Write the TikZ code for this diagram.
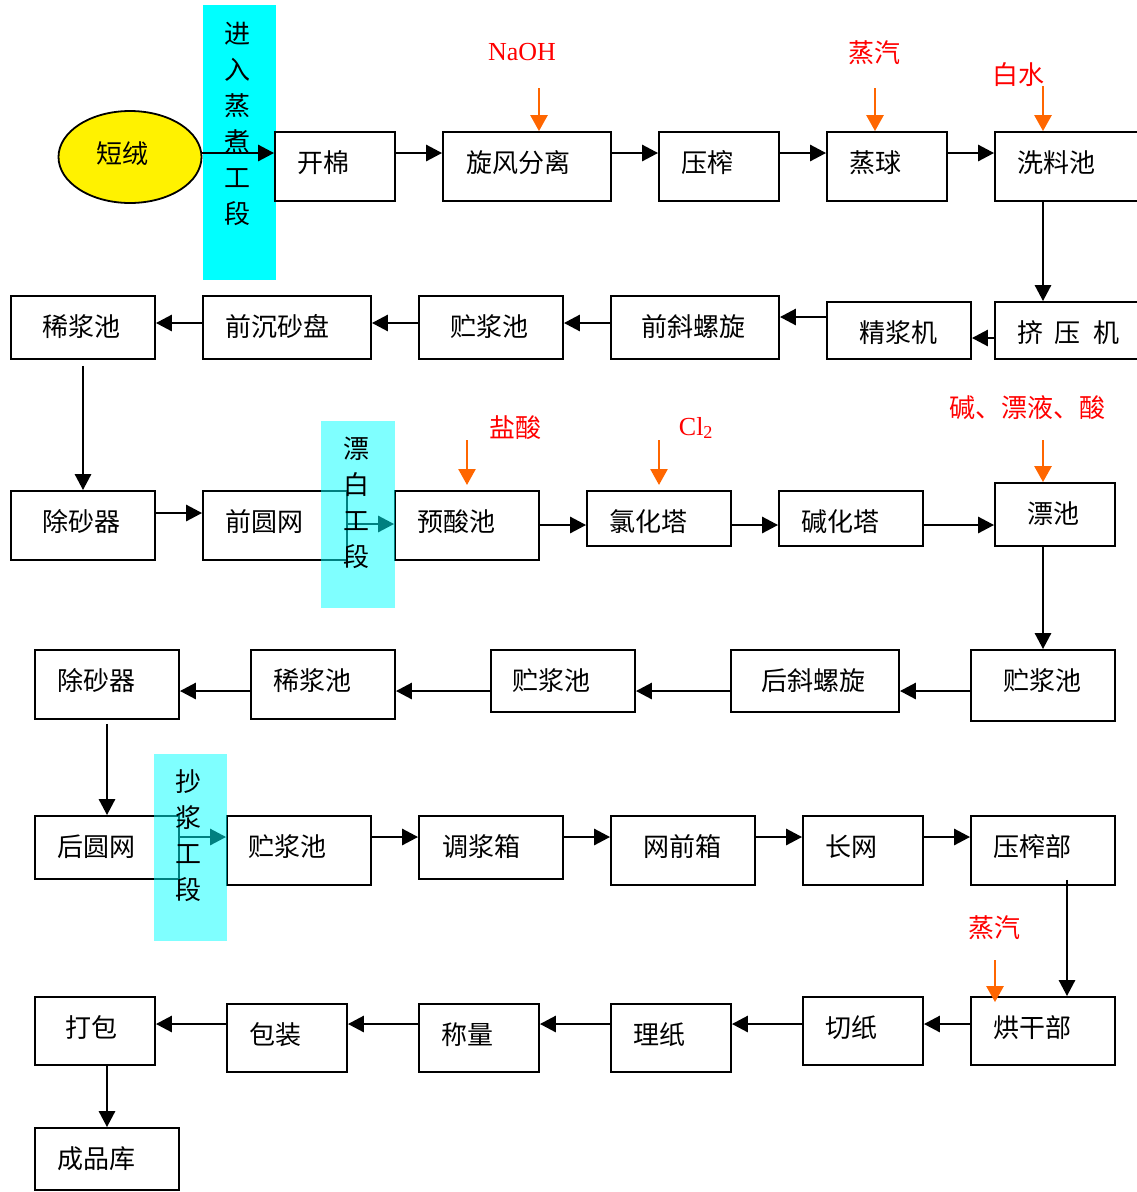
\documentclass[tikz,border=0pt]{standalone}
\usepackage{fontspec}
\setmainfont{Liberation Serif}
\newfontfamily\cjk{Noto Sans CJK SC}
\usetikzlibrary{shapes.geometric,arrows.meta,calc}
\definecolor{myorange}{HTML}{FF6600}
\definecolor{myred}{HTML}{FF0000}
\definecolor{mycyan}{HTML}{00FFFF}
\tikzset{
  box/.style={draw, line width=1.8pt, align=left, inner sep=0pt,
    font=\cjk\fontsize{26}{30}\selectfont},
  arr/.style={line width=2.8pt, -{Triangle[length=16pt,width=16pt]}},
  oarr/.style={draw=myorange, line width=2.6pt, -{Triangle[length=16pt,width=17pt]}},
  lab/.style={text=myred, inner sep=0pt, font=\fontsize{26}{30}\selectfont},
  bandtxt/.style={align=center, inner sep=0pt, font=\cjk\fontsize{26}{36}\selectfont},
  bandA/.style={fill=mycyan, inner sep=0pt},
  bandB/.style={fill=mycyan, fill opacity=0.5, inner sep=0pt},
}
\newcommand\pbox[7]{%
  \pgfmathsetmacro\pbw{#4-#2}%
  \pgfmathsetmacro\pbh{#5-#3}%
  \pgfmathsetmacro\pbt{#4-#2-2*#6}%
  \pgfmathsetmacro\pbx{(#2+#4)/2}%
  \pgfmathsetmacro\pby{(#3+#5)/2}%
  \pgfmathsetmacro\pbth{93-(#5-#3)}%
  \node[box, minimum width=\pbw pt, minimum height=\pbh pt, text width=\pbt pt,
    text height=\pbth pt, text depth=12pt] (#1) at (\pbx,\pby) {#7};}
\begin{document}
\begin{tikzpicture}[x=1pt,y=-1pt]
\useasboundingbox (0,0) rectangle (1137,1192);
\fill[white] (0,0) rectangle (1137,1192);
% band 1 (opaque, under everything)
\node[bandA, minimum width=73pt, minimum height=275pt] (band1) at (239.5,142.5) {};
% ellipse
\node[ellipse, draw, fill=yellow, line width=1.8pt, minimum width=143pt, minimum height=92pt, inner sep=0pt,
  font=\cjk\fontsize{26}{30}\selectfont, text height=24pt, text depth=12pt] (duanrong) at (130,157) {\hspace{-16pt}短绒};
% row 1
\pbox{kaimian}{275}{132}{395}{201}{22}{开棉}
\pbox{xuanfeng}{443}{132}{611}{201}{23}{旋风分离}
\pbox{yazha}{659}{132}{779}{201}{22}{压榨}
\pbox{zhengqiu}{827}{132}{947}{201}{22}{蒸球}
\pbox{xiliao}{995}{132}{1150}{201}{22}{洗料池}
% row 2
\pbox{xijiang1}{11}{296}{155}{359}{31}{稀浆池}
\pbox{qianchen}{203}{296}{371}{359}{22}{前沉砂盘}
\pbox{zhujiang1}{419}{296}{563}{359}{31}{贮浆池}
\pbox{qianxie}{611}{296}{779}{359}{30}{前斜螺旋}
\pbox{jingjiang}{827}{302}{971}{359}{32}{精浆机}
\pbox{jiya}{995}{302}{1150}{359}{22}{挤\kern12pt压\kern12pt机}
% row 3
\pbox{chusha1}{11}{491}{155}{560}{31}{除砂器}
\pbox{qianyuan}{203}{491}{347}{560}{22}{前圆网}
\pbox{yusuan}{395}{491}{539}{560}{22}{预酸池}
\pbox{lvhua}{587}{491}{731}{546}{22}{氯化塔}
\pbox{jianhua}{779}{491}{923}{546}{22}{碱化塔}
\pbox{piaochi}{995}{483}{1115}{546}{32}{漂池}
% row 4
\pbox{chusha2}{35}{650}{179}{719}{22}{除砂器}
\pbox{xijiang2}{251}{650}{395}{719}{22}{稀浆池}
\pbox{zhujiang2}{491}{650}{635}{712}{21}{贮浆池}
\pbox{houxie}{731}{650}{899}{712}{30}{后斜螺旋}
\pbox{zhujiang3}{971}{650}{1115}{721}{32}{贮浆池}
% row 5
\pbox{houyuan}{35}{816}{179}{879}{22}{后圆网}
\pbox{zhujiang4}{227}{816}{371}{885}{21}{贮浆池}
\pbox{tiaojiang}{419}{816}{563}{879}{23}{调浆箱}
\pbox{wangqian}{611}{816}{755}{885}{32}{网前箱}
\pbox{changwang}{803}{816}{923}{885}{22}{长网}
\pbox{yazhabu}{971}{816}{1115}{885}{22}{压榨部}
% row 6
\pbox{dabao}{35}{997}{155}{1065}{30}{打包}
\pbox{baozhuang}{227}{1004}{347}{1072}{22}{包装}
\pbox{chengliang}{419}{1004}{539}{1072}{22}{称量}
\pbox{lizhi}{611}{1004}{731}{1072}{22}{理纸}
\pbox{qiezhi}{803}{997}{923}{1065}{22}{切纸}
\pbox{honggan}{971}{997}{1115}{1065}{22}{烘干部}
\pbox{chengpin}{35}{1128}{179}{1190}{22}{成品库}
% connectors row 1
\draw[arr] (duanrong.east |- 0,153) -- (kaimian.west |- 0,153);
\draw[arr] (kaimian.east |- 0,153) -- (xuanfeng.west |- 0,153);
\draw[arr] (xuanfeng.east |- 0,153) -- (yazha.west |- 0,153);
\draw[arr] (yazha.east |- 0,153) -- (zhengqiu.west |- 0,153);
\draw[arr] (zhengqiu.east |- 0,153) -- (xiliao.west |- 0,153);
\draw[arr] (xiliao.south -| 1043,0) -- (jiya.north -| 1043,0);
% row 2
\draw[arr] (jiya.west |- 0,338) -- (jingjiang.east |- 0,338);
\draw[arr] (jingjiang.west |- 0,317) -- (qianxie.east |- 0,317);
\draw[arr] (qianxie.west |- 0,323) -- (zhujiang1.east |- 0,323);
\draw[arr] (zhujiang1.west |- 0,323) -- (qianchen.east |- 0,323);
\draw[arr] (qianchen.west |- 0,323) -- (xijiang1.east |- 0,323);
\draw[arr] ($(xijiang1.south)+(0,6)$) -- (chusha1.north);
% row 3
\draw[arr] (chusha1.east |- 0,513) -- (qianyuan.west |- 0,513);
\draw[arr] (qianyuan.east |- 0,524) -- (yusuan.west |- 0,524);
\draw[arr] (yusuan.east |- 0,525) -- (lvhua.west |- 0,525);
\draw[arr] (lvhua.east |- 0,525) -- (jianhua.west |- 0,525);
\draw[arr] (jianhua.east |- 0,525) -- (piaochi.west |- 0,525);
\draw[arr] (piaochi.south -| 1043,0) -- (zhujiang3.north -| 1043,0);
% row 4
\draw[arr] (zhujiang3.west |- 0,691) -- (houxie.east |- 0,691);
\draw[arr] (houxie.west |- 0,691) -- (zhujiang2.east |- 0,691);
\draw[arr] (zhujiang2.west |- 0,691) -- (xijiang2.east |- 0,691);
\draw[arr] (xijiang2.west |- 0,691) -- (chusha2.east |- 0,691);
\draw[arr] ($(chusha2.south)+(0,4)$) -- (houyuan.north);
% row 5
\draw[arr] (houyuan.east |- 0,837) -- (zhujiang4.west |- 0,837);
\draw[arr] (zhujiang4.east |- 0,837) -- (tiaojiang.west |- 0,837);
\draw[arr] (tiaojiang.east |- 0,837) -- (wangqian.west |- 0,837);
\draw[arr] (wangqian.east |- 0,837) -- (changwang.west |- 0,837);
\draw[arr] (changwang.east |- 0,837) -- (yazhabu.west |- 0,837);
\draw[arr] ($(yazhabu.south -| 1067,0)+(0,-6)$) -- (honggan.north -| 1067,0);
% row 6
\draw[arr] (honggan.west |- 0,1024) -- (qiezhi.east |- 0,1024);
\draw[arr] (qiezhi.west |- 0,1024) -- (lizhi.east |- 0,1024);
\draw[arr] (lizhi.west |- 0,1024) -- (chengliang.east |- 0,1024);
\draw[arr] (chengliang.west |- 0,1024) -- (baozhuang.east |- 0,1024);
\draw[arr] (baozhuang.west |- 0,1024) -- (dabao.east |- 0,1024);
\draw[arr] (dabao.south -| 107,0) -- (chengpin.north -| 107,0);
% additive labels and orange arrows
\node[lab] (lNaOH) at (522,52) {NaOH};
\node[lab] (lsteam1) at (874,53) {\cjk 蒸汽};
\node[lab] (lwater) at (1018,75) {\cjk 白水};
\node[lab] (lhcl) at (515,428) {\cjk 盐酸};
\node[lab] (lcl) at (696,428) {Cl\textsubscript{2}};
\node[lab] (lbleach) at (1027,408) {\cjk 碱、漂液、酸};
\node[lab] (lsteam2) at (994,928) {\cjk 蒸汽};
\coordinate (oNaOH) at (539,88);
\coordinate (osteam1) at (875,88);
\coordinate (owater) at (1043,86);
\coordinate (ohcl) at (467,440);
\coordinate (ohclend) at (467,485);
\coordinate (ocl) at (659,440);
\coordinate (oclend) at (659,485);
\coordinate (obleach) at (1043,440);
\coordinate (osteam2) at (995,960);
\draw[oarr] (oNaOH) -- (xuanfeng.north -| oNaOH);
\draw[oarr] (osteam1) -- (zhengqiu.north -| osteam1);
\draw[oarr] (owater) -- (xiliao.north -| owater);
\draw[oarr] (ohcl) -- (ohclend);
\draw[oarr] (ocl) -- (oclend);
\draw[oarr] (obleach) -- (piaochi.north -| obleach);
\draw[oarr] (osteam2) -- ($(honggan.north -| osteam2)+(0,6)$);
% translucent bands
\node[bandB, minimum width=74pt, minimum height=187pt] (band2) at (358,514.5) {};
\node[bandB, minimum width=73pt, minimum height=187pt] (band3) at (190.5,847.5) {};
% band texts
\node[bandtxt] (t1) at (237,124) {进\\入\\蒸\\煮\\工\\段};
\node[bandtxt] (t2) at (356,503) {漂\\白\\工\\段};
\node[bandtxt] (t3) at (188,836) {抄\\浆\\工\\段};
\end{tikzpicture}
\end{document}
